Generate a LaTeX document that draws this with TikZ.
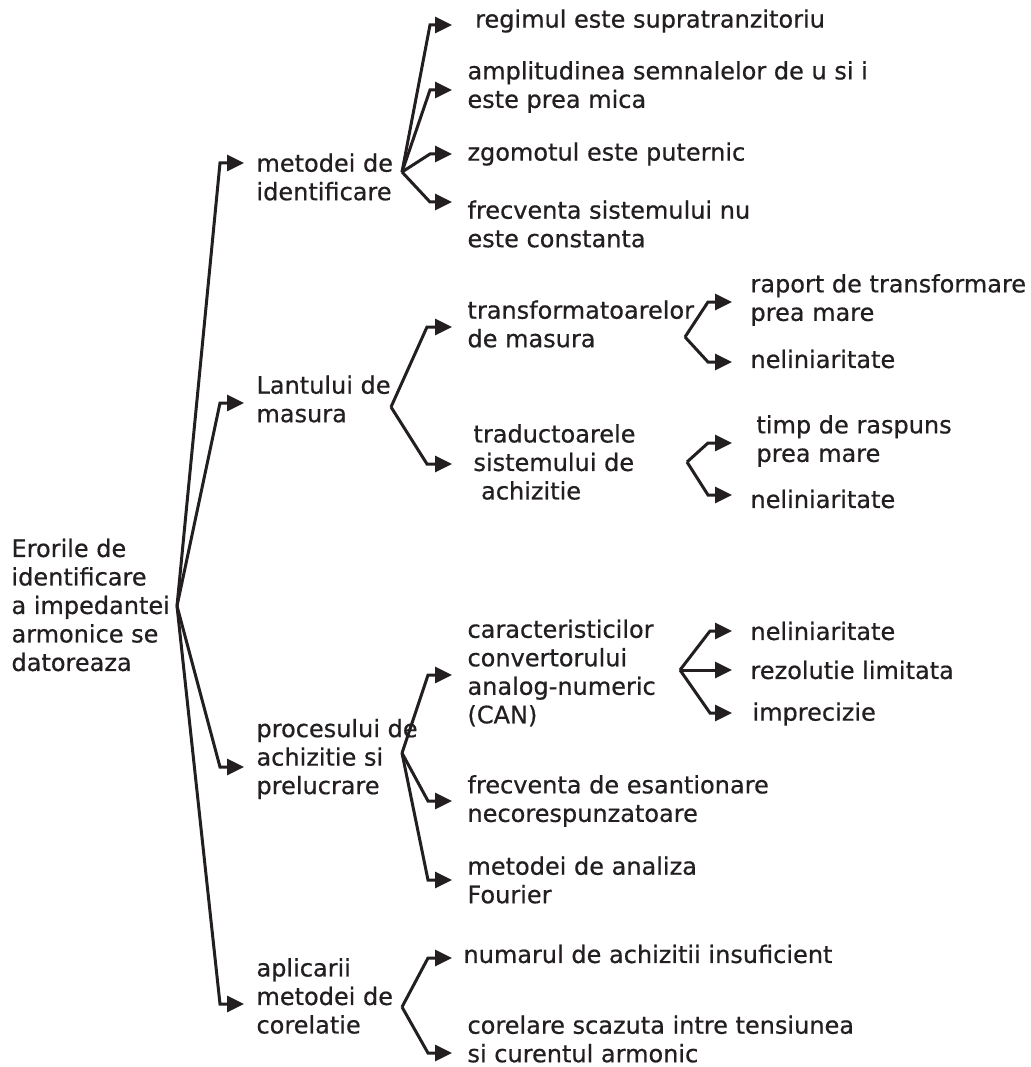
\documentclass[tikz,border=0pt]{standalone}
\usepackage{fontspec}
\setmainfont[FakeBold=0.6]{DejaVu Sans}
\usetikzlibrary{arrows.meta,positioning}
\definecolor{ink}{HTML}{231F20}

\begin{document}
\begin{tikzpicture}[x=1pt,y=-1pt,->,>={Triangle[length=17pt,width=16pt]},
                    line width=3pt,draw=ink,text=ink]
  \tikzstyle{every node}=[align=left,anchor=west,inner ysep=0pt,
                          font=\fontsize{24}{28.5}\selectfont]
  \tikzstyle{first}=[inner xsep=11pt]
  \tikzstyle{second}=[inner xsep=14pt]
  \tikzstyle{third}=[inner xsep=17pt]

  \useasboundingbox (0,0) rectangle (1030,1067);

  \node[inner xsep=0pt]  (R)   at (10,605)   {Erorile de\\identificare\\a impedantei\\armonice se\\datoreaza};

  \node[first]  (M)   at (244,177)  {metodei de\\identificare};
  \node[first]  (L)   at (244,399)  {Lantului de\\masura};
  \node[first]  (P)   at (244,759)  {procesului de\\achizitie si\\prelucrare};
  \node[first]  (A)   at (244,996)  {aplicarii\\metodei de\\corelatie};

  \node[second] (M1)  at (452,21)   {\ regimul este supratranzitoriu};
  \node[second] (M2)  at (452,87)   {amplitudinea semnalelor de u si i\\este prea mica};
  \node[second] (M3)  at (452,154)  {zgomotul este puternic};
  \node[second] (M4)  at (452,224)  {frecventa sistemului nu\\este constanta};

  \node[second] (L1)  at (452,324)  {transformatoarelor\\de masura};
  \node[second] (L2)  at (458,462)  {traductoarele\\sistemului de\\\ achizitie};

  \node[third]  (L1a) at (732,300)  {raport de transformare\\prea mare};
  \node[third]  (L1b) at (732,359)  {neliniaritate};
  \node[third]  (L2a) at (738,441)  {timp de raspuns\\prea mare};
  \node[third]  (L2b) at (732,499)  {neliniaritate};

  \node[second] (P1)  at (452,673)  {caracteristicilor\\convertorului\\analog-numeric\\(CAN)};
  \node[second] (P2)  at (452,801)  {frecventa de esantionare\\necorespunzatoare};
  \node[second] (P3)  at (452,880)  {metodei de analiza\\Fourier};

  \node[third]  (P1a) at (732,631)  {neliniaritate};
  \node[third]  (P1b) at (732,670)  {rezolutie limitata};
  \node[third]  (P1c) at (734,714)  {imprecizie};

  \node[second] (A1)  at (448,954)  {numarul de achizitii insuficient};
  \node[second] (A2)  at (452,1039) {corelare scazuta intre tensiunea\\si curentul armonic};

  % branching points
  \coordinate (jR)  at (177,606);
  \coordinate (jM)  at (402,172);
  \coordinate (jL)  at (391,407);
  \coordinate (jP)  at (402,753);
  \coordinate (jA)  at (402,1007);
  \coordinate (jL1) at (685,337);
  \coordinate (jL2) at (687,462);
  \coordinate (jP1) at (680,670);

  \draw (jR) -- ([xshift=-24pt,yshift=14pt]M.west) -- ([yshift=14pt]M.west);
  \draw (jR) -- ([xshift=-24pt,yshift=-4pt]L.west) -- ([yshift=-4pt]L.west);
  \draw (jR) -- ([xshift=-24pt,yshift=-8pt]P.west) -- ([yshift=-8pt]P.west);
  \draw (jR) -- ([xshift=-24pt,yshift=-8pt]A.west) -- ([yshift=-8pt]A.west);

  \draw (jM) -- ([xshift=-22pt,yshift=-4pt]M1.west) -- ([yshift=-4pt]M1.west);
  \draw (jM) -- ([xshift=-22pt,yshift=-3pt]M2.west) -- ([yshift=-3pt]M2.west);
  \draw (jM) -- ([xshift=-22pt]M3.west) -- (M3.west);
  \draw (jM) -- ([xshift=-22pt,yshift=22pt]M4.west) -- ([yshift=22pt]M4.west);

  \draw (jL) -- ([xshift=-25pt,yshift=-3pt]L1.west) -- ([yshift=-3pt]L1.west);
  \draw (jL) -- ([xshift=-31pt,yshift=-2pt]L2.west) -- ([xshift=-6pt,yshift=-2pt]L2.west);

  \draw (jL1) -- ([xshift=-24pt,yshift=-2pt]L1a.west) -- ([yshift=-2pt]L1a.west);
  \draw (jL1) -- ([xshift=-24pt,yshift=-3pt]L1b.west) -- ([yshift=-3pt]L1b.west);
  \draw (jL2) -- ([xshift=-30pt,yshift=-2pt]L2a.west) -- ([xshift=-6pt,yshift=-2pt]L2a.west);
  \draw (jL2) -- ([xshift=-24pt,yshift=4pt]L2b.west) -- ([yshift=4pt]L2b.west);

  \draw (jP) -- ([xshift=-24pt,yshift=-2pt]P1.west) -- ([yshift=-2pt]P1.west);
  \draw (jP) -- ([xshift=-24pt]P2.west) -- (P2.west);
  \draw (jP) -- ([xshift=-24pt]P3.west) -- (P3.west);

  \draw (jP1) -- ([xshift=-22pt]P1a.west) -- (P1a.west);
  \draw (jP1) -- (P1b.west);
  \draw (jP1) -- ([xshift=-24pt,yshift=1pt]P1c.west) -- ([xshift=-2pt,yshift=1pt]P1c.west);

  \draw (jA) -- ([xshift=-20pt,yshift=-4pt]A1.west) -- ([xshift=4pt,yshift=-4pt]A1.west);
  \draw (jA) -- ([xshift=-24pt,yshift=-14pt]A2.west) -- ([yshift=-14pt]A2.west);
\end{tikzpicture}
\end{document}
